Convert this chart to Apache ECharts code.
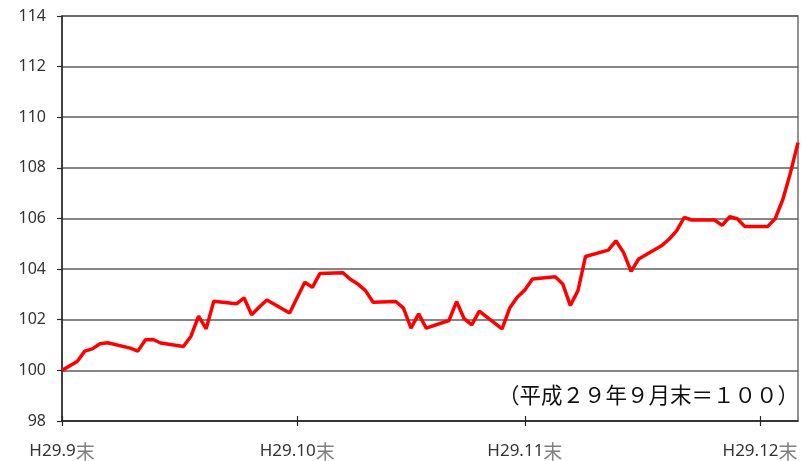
<!DOCTYPE html>
<html>
<head>
<meta charset="utf-8">
<title>指数の推移</title>
<script src="https://cdn.jsdelivr.net/npm/echarts@6/dist/echarts.min.js"></script>
<style>
  html, body { margin: 0; padding: 0; background: #fff; }
  #chart { width: 805px; height: 461px; }
</style>
</head>
<body>
<div id="chart"></div>
<script>
// 日付（平日のみ）
const tradeDates = [
  '2017-09-30',
  '2017-10-02', '2017-10-03', '2017-10-04', '2017-10-05', '2017-10-06',
  '2017-10-09', '2017-10-10', '2017-10-11', '2017-10-12', '2017-10-13',
  '2017-10-16', '2017-10-17', '2017-10-18', '2017-10-19', '2017-10-20',
  '2017-10-23', '2017-10-24', '2017-10-25', '2017-10-26', '2017-10-27',
  '2017-10-30', '2017-10-31', '2017-11-01', '2017-11-02', '2017-11-03',
  '2017-11-06', '2017-11-07', '2017-11-08', '2017-11-09', '2017-11-10',
  '2017-11-13', '2017-11-14', '2017-11-15', '2017-11-16', '2017-11-17',
  '2017-11-20', '2017-11-21', '2017-11-22', '2017-11-23', '2017-11-24',
  '2017-11-27', '2017-11-28', '2017-11-29', '2017-11-30', '2017-12-01',
  '2017-12-04', '2017-12-05', '2017-12-06', '2017-12-07', '2017-12-08',
  '2017-12-11', '2017-12-12', '2017-12-13', '2017-12-14', '2017-12-15',
  '2017-12-18', '2017-12-19', '2017-12-20', '2017-12-21', '2017-12-22',
  '2017-12-25', '2017-12-26', '2017-12-27', '2017-12-28', '2017-12-29',
  '2018-01-01', '2018-01-02', '2018-01-03', '2018-01-04', '2018-01-05'
]

// 指数（平成29年9月末=100）
const indexValues = [
  100.00,
  100.35, 100.76, 100.85, 101.05, 101.09,
  100.88, 100.76, 101.21, 101.22, 101.08,
  100.94, 101.35, 102.14, 101.64, 102.73,
  102.63, 102.86, 102.20, 102.50, 102.78,
  102.27, 102.88, 103.48, 103.28, 103.83,
  103.86, 103.60, 103.41, 103.15, 102.69,
  102.72, 102.46, 101.67, 102.23, 101.67,
  101.97, 102.72, 102.04, 101.80, 102.34,
  101.64, 102.46, 102.89, 103.18, 103.61,
  103.70, 103.41, 102.56, 103.15, 104.50,
  104.75, 105.12, 104.66, 103.91, 104.40,
  104.92, 105.18, 105.51, 106.04, 105.94,
  105.94, 105.73, 106.07, 105.99, 105.68,
  105.68, 106.00, 106.75, 107.80, 109.00
]

// 月末の目盛
const tickDates = ['2017-09-30', '2017-10-31', '2017-11-30', '2017-12-31']
const tickLabels = ['H29.9', 'H29.10', 'H29.11', 'H29.12']

// 注記
const noteText = '（平成２９年９月末＝１００）'

// 暦日の軸（休日は null）
const calendarDays = []
const firstDay = Date.parse(tradeDates[0] + 'T00:00:00Z')
const lastDay = Date.parse(tradeDates[tradeDates.length - 1] + 'T00:00:00Z')
for (let t = firstDay; t <= lastDay; t += 86400000) {
  calendarDays.push(new Date(t).toISOString().slice(0, 10))
}
const valueByDate = {}
tradeDates.forEach((d, i) => { valueByDate[d] = indexValues[i] })
const seriesData = calendarDays.map(d => (d in valueByDate ? valueByDate[d] : null))

const isMonthEnd = (idx, value) => tickDates.indexOf(value) >= 0

const chart = echarts.init(document.getElementById('chart'))

const option = {
  animation: false,
  grid: {
    left: 62,
    right: 7,
    top: 16,
    bottom: 39,
    show: true,
    borderColor: '#707070',
    borderWidth: 1.5
  },
  xAxis: [
    {
      type: 'category',
      data: calendarDays,
      boundaryGap: false,
      axisLine: { onZero: false, lineStyle: { color: '#262626', width: 1.5 } },
      axisTick: {
        show: true,
        length: 5,
        interval: isMonthEnd,
        lineStyle: { color: '#262626', width: 1.2 }
      },
      axisLabel: {
        interval: isMonthEnd,
        margin: 21,
        formatter: v => '{a|' + tickLabels[tickDates.indexOf(v)] + '}{b|末}',
        rich: {
          a: { fontFamily: 'Noto Sans', fontSize: 17, color: '#333' },
          b: { fontFamily: 'Noto Sans CJK JP', fontSize: 19, color: '#808080' }
        }
      },
      splitLine: { show: false }
    },
    {
      // 内側の目盛（十字の目盛にするため）
      type: 'category',
      data: calendarDays,
      boundaryGap: false,
      position: 'bottom',
      axisLine: { show: false },
      axisTick: {
        show: true,
        inside: true,
        length: 5,
        interval: isMonthEnd,
        lineStyle: { color: '#262626', width: 1.2 }
      },
      axisLabel: { show: false },
      splitLine: { show: false }
    }
  ],
  yAxis: {
    type: 'value',
    min: 98,
    max: 114,
    interval: 2,
    axisLine: { show: true, lineStyle: { color: '#262626', width: 1.5 } },
    axisTick: { show: true, length: 5, lineStyle: { color: '#262626', width: 1.2 } },
    axisLabel: {
      fontFamily: 'Noto Sans',
      fontSize: 16,
      color: '#333',
      margin: 16
    },
    splitLine: { lineStyle: { color: '#5e5e5e', width: 1.5 } }
  },
  graphic: [
    {
      type: 'text',
      right: 6,
      top: 384,
      style: {
        text: noteText,
        font: '21.5px "Noto Sans CJK JP"',
        fill: '#111'
      }
    }
  ],
  series: [
    {
      type: 'line',
      data: seriesData,
      connectNulls: true,
      showSymbol: false,
      symbol: 'none',
      lineStyle: { color: '#ff0000', width: 3.5 }
    }
  ]
}

chart.setOption(option)
</script>
</body>
</html>
